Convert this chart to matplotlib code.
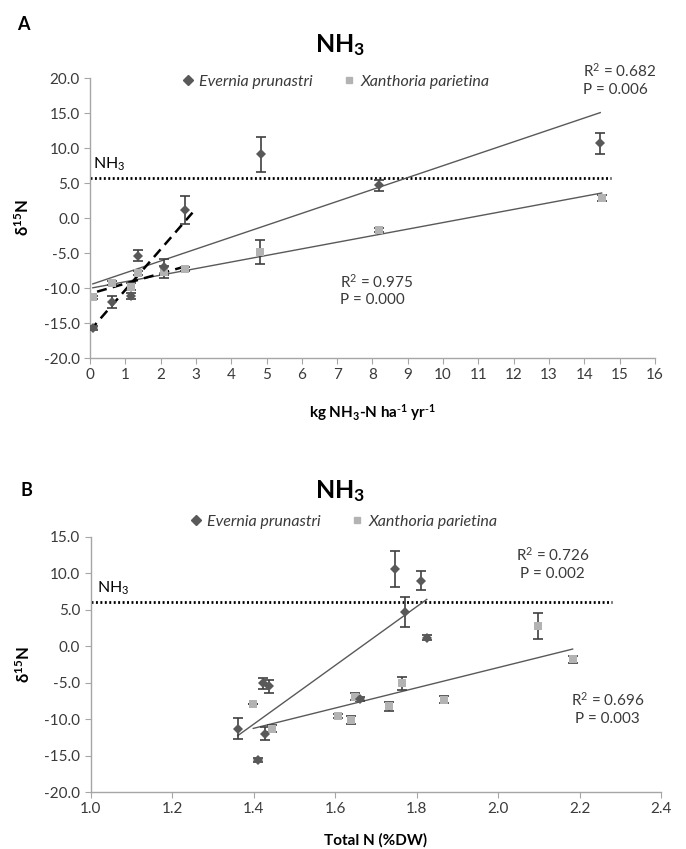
import numpy as np
import matplotlib
matplotlib.use("Agg")
import matplotlib.pyplot as plt
from matplotlib.lines import Line2D

plt.rcParams["font.family"] = ["Lato", "DejaVu Sans"]
plt.rcParams["mathtext.default"] = "regular"

# =========================================================
# DATA
# =========================================================
# ---- Panel A : d15N vs NH3 deposition ----
a_eve_x = [0.08, 0.61, 1.16, 1.37, 2.10, 2.69, 4.83, 8.19, 14.45]
a_eve_y = [-15.7, -12.0, -11.1, -5.4, -7.0, 1.2, 9.1, 4.7, 10.7]
a_eve_err = [0.3, 0.8, 0.4, 0.8, 1.2, 2.0, 2.5, 0.8, 1.5]

a_xan_x = [0.08, 0.61, 1.16, 1.37, 2.10, 2.69, 4.82, 8.19, 14.49]
a_xan_y = [-11.3, -9.3, -9.8, -7.9, -7.7, -7.3, -4.9, -1.7, 2.9]
a_xan_err = [0.2, 0.3, 0.5, 0.3, 0.9, 0.3, 1.7, 0.3, 0.4]

a_nh3 = 5.75
a_r2_all = ["R$^2$ = 0.682\nP = 0.006", "R$^2$ = 0.975\nP = 0.000"]

# ---- Panel B : d15N vs total N ----
b_eve_x = [1.361, 1.424, 1.438, 1.428, 1.411, 1.748, 1.812, 1.771, 1.825, 1.660]
b_eve_y = [-11.3, -5.1, -5.5, -12.0, -15.6, 10.6, 9.0, 4.7, 1.2, -7.2]
b_eve_err = [1.45, 0.75, 0.85, 0.9, 0.3, 2.5, 1.3, 2.1, 0.4, 0.3]

b_xan_x = [1.399, 1.446, 1.608, 1.639, 1.649, 1.765, 1.733, 1.868, 2.098, 2.183]
b_xan_y = [-7.95, -11.3, -9.55, -10.1, -6.9, -5.1, -8.25, -7.35, 2.8, -1.8]
b_xan_err = [0.0, 0.5, 0.3, 0.5, 0.5, 0.9, 0.6, 0.5, 1.8, 0.5]

b_nh3 = 6.1
b_r2 = ["R$^2$ = 0.726\nP = 0.002", "R$^2$ = 0.696\nP = 0.003"]

species = ["Evernia prunastri", "Xanthoria parietina"]

EVE_C = "#595959"
XAN_C = "#b3b3b3"
ERR_C = "#3f3f3f"
LINE_C = "#595959"
TXT_C = "#3a3a3a"


def style_axes(ax):
    for s in ["top", "right"]:
        ax.spines[s].set_visible(False)
    for s in ["left", "bottom"]:
        ax.spines[s].set_color("#a6a6a6")
        ax.spines[s].set_linewidth(1.0)
    ax.tick_params(direction="out", length=4, color="#a6a6a6",
                   labelsize=11, labelcolor=TXT_C)


def draw_points(ax, x, y, err, marker, color, ms):
    ax.errorbar(x, y, yerr=err, fmt="none", ecolor=ERR_C, elinewidth=1.2,
                capsize=3.5, capthick=1.2, zorder=3)
    ax.plot(x, y, linestyle="none", marker=marker, color=color, ms=ms,
            markeredgewidth=0, zorder=4)


def fit_line(ax, x, y, x_from=None, x_to=None, **kw):
    x = np.asarray(x)
    y = np.asarray(y)
    k, b = np.polyfit(x, y, 1)
    x0 = x.min() if x_from is None else x_from
    x1 = x.max() if x_to is None else x_to
    xx = np.array([x0, x1])
    ax.plot(xx, k * xx + b, **kw)


def add_legend(ax, anchor):
    handles = [
        Line2D([], [], linestyle="none", marker="D", color=EVE_C, ms=5),
        Line2D([], [], linestyle="none", marker="s", color=XAN_C, ms=5),
    ]
    leg = ax.legend(handles, species, loc="center", bbox_to_anchor=anchor,
                    ncol=2, frameon=False, handletextpad=0.2,
                    columnspacing=1.8, handlelength=1.0,
                    prop={"style": "italic", "size": 11.5})
    for t in leg.get_texts():
        t.set_color(TXT_C)


fig = plt.figure(figsize=(6.86, 8.49), dpi=100)

# =========================================================
# PANEL A
# =========================================================
axA = fig.add_axes([0.1312, 0.5783, 0.8236, 0.3298])
style_axes(axA)

axA.plot([0, 14.75], [a_nh3, a_nh3], color="black", lw=2.0,
         linestyle=(0, (0.7, 0.9)), zorder=2)
axA.text(0.08, a_nh3 + 1.9, "NH$_3$", fontsize=11.5, color="black",
         ha="left", va="center")

fit_line(axA, a_eve_x, a_eve_y, color=LINE_C, lw=1.0, zorder=2)
fit_line(axA, a_xan_x, a_xan_y, color=LINE_C, lw=1.0, zorder=2)
# short range fits (first six sites)
fit_line(axA, a_eve_x[:6], a_eve_y[:6], 0.0, 3.0, color="black", lw=1.8,
         linestyle=(0, (4, 2.5)), zorder=2)
fit_line(axA, a_xan_x[:6], a_xan_y[:6], 0.2, 2.65, color="black", lw=1.8,
         linestyle=(0, (4, 2.5)), zorder=2)

draw_points(axA, a_xan_x, a_xan_y, a_xan_err, "s", XAN_C, 5.5)
draw_points(axA, a_eve_x, a_eve_y, a_eve_err, "D", EVE_C, 5.5)

axA.set_xlim(0, 16)
axA.set_ylim(-20, 20)
axA.set_xticks(np.arange(0, 17, 1))
axA.set_yticks(np.arange(-20, 21, 5))
axA.yaxis.set_major_formatter(matplotlib.ticker.FormatStrFormatter("%.1f"))
axA.set_xlabel(r"kg NH$_3$-N ha$^{\text{-}1}$ yr$^{\text{-}1}$", fontsize=11,
               fontweight="bold", color="black", labelpad=14)
axA.set_ylabel("δ$^{15}$N", fontsize=12, fontweight="bold", color="black",
               labelpad=8)

axA.text(13.97, 19.8, a_r2_all[0], fontsize=11, color=TXT_C, ha="left",
         va="center", linespacing=1.25)
axA.text(7.08, -10.3, a_r2_all[1], fontsize=11, color=TXT_C, ha="left",
         va="center", linespacing=1.25)
add_legend(axA, (0.433, 0.986))

fig.text(0.025, 1 - 25 / 849, "A", fontsize=13, fontweight="bold",
         ha="left", va="center")
fig.text(0.496, 1 - 45 / 849, "NH$_3$", fontsize=18, fontweight="bold",
         ha="center", va="center")

# =========================================================
# PANEL B
# =========================================================
axB = fig.add_axes([0.1322, 0.0671, 0.8314, 0.3004])
style_axes(axB)

axB.plot([1.0, 2.28], [b_nh3, b_nh3], color="black", lw=2.0,
         linestyle=(0, (0.7, 0.9)), zorder=2)
axB.text(1.015, b_nh3 + 1.9, "NH$_3$", fontsize=11.5, color="black",
         ha="left", va="center")

fit_line(axB, b_eve_x, b_eve_y, color=LINE_C, lw=1.0, zorder=2)
fit_line(axB, b_xan_x, b_xan_y, color=LINE_C, lw=1.0, zorder=2)

draw_points(axB, b_xan_x, b_xan_y, b_xan_err, "s", XAN_C, 5.5)
draw_points(axB, b_eve_x, b_eve_y, b_eve_err, "D", EVE_C, 5.5)

axB.set_xlim(1.0, 2.4)
axB.set_ylim(-20, 15)
axB.set_xticks(np.arange(1.0, 2.41, 0.2))
axB.set_yticks(np.arange(-20, 16, 5))
axB.xaxis.set_major_formatter(matplotlib.ticker.FormatStrFormatter("%.1f"))
axB.yaxis.set_major_formatter(matplotlib.ticker.FormatStrFormatter("%.1f"))
axB.set_xlabel("Total N (%DW)", fontsize=11, fontweight="bold",
               color="black", labelpad=12)
axB.set_ylabel("δ$^{15}$N", fontsize=12, fontweight="bold", color="black",
               labelpad=8)

axB.text(2.134, 11.4, b_r2[0], fontsize=11, color=TXT_C, ha="center",
         va="center", linespacing=1.25)
axB.text(2.268, -8.5, b_r2[1], fontsize=11, color=TXT_C, ha="center",
         va="center", linespacing=1.25)
add_legend(axB, (0.442, 1.059))

fig.text(0.03, 1 - 491 / 849, "B", fontsize=13, fontweight="bold",
         ha="left", va="center")
fig.text(0.496, 1 - 491 / 849, "NH$_3$", fontsize=18, fontweight="bold",
         ha="center", va="center")

fig.savefig("out.png", dpi=100)
